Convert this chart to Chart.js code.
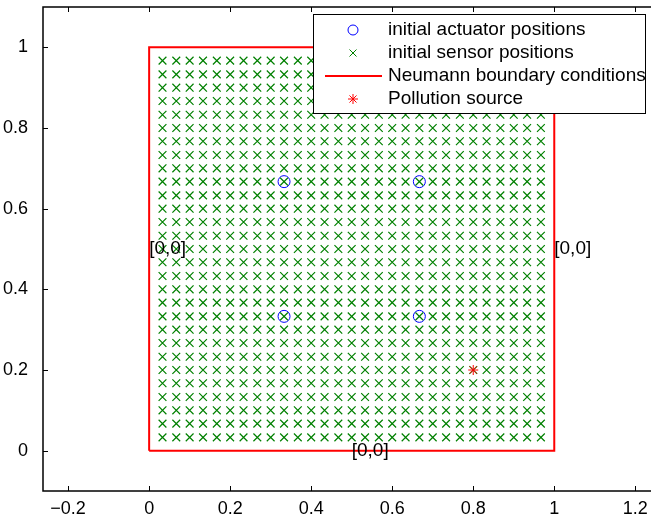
<!DOCTYPE html>
<html>
<head>
<meta charset="utf-8">
<script src="https://cdn.jsdelivr.net/npm/chart.js@4/dist/chart.umd.min.js"></script>
<style>
    html, body { margin: 0; padding: 0; overflow: hidden; background: #fff; }
</style>
</head>
<body>
<canvas id="plot" width="680" height="522"></canvas>
<script>
// 센서/액추에이터 배치도 (MATLAB 스타일)

const sensorGrid = [0.033, 0.067, 0.1, 0.133, 0.167, 0.2, 0.233, 0.267, 0.3, 0.333,
                    0.367, 0.4, 0.433, 0.467, 0.5, 0.533, 0.567, 0.6, 0.633, 0.667,
                    0.7, 0.733, 0.767, 0.8, 0.833, 0.867, 0.9, 0.933, 0.967];
const actuatorX = [0.333, 0.667, 0.333, 0.667];
const actuatorY = [0.333, 0.333, 0.667, 0.667];
const boundaryX = [0, 1, 1, 0, 0];
const boundaryY = [0, 0, 1, 1, 0];
const sourceX = [0.8];
const sourceY = [0.2];
const bcLabels = ['[0,0]', '[0,0]', '[0,0]'];
const bcX = [0, 1, 0.5];
const bcY = [0.5, 0.5, 0];
const xTicks = [-0.2, 0, 0.2, 0.4, 0.6, 0.8, 1, 1.2];
const xTickLabels = ['\u22120.2', '0', '0.2', '0.4', '0.6', '0.8', '1', '1.2'];
const yTicks = [0, 0.2, 0.4, 0.6, 0.8, 1];
const yTickLabels = ['0', '0.2', '0.4', '0.6', '0.8', '1'];

const FONT = '"Liberation Sans", Arial, Helvetica, sans-serif';
const GREEN = 'rgb(0,128,0)';

const sensorPoints = [];
sensorGrid.forEach(x => sensorGrid.forEach(y => sensorPoints.push({x: x, y: y})));

const datasets = [
    {
        label: 'initial actuator positions',
        data: actuatorX.map((x, i) => ({x: x, y: actuatorY[i]})),
        pointStyle: 'circle',
        pointRadius: 6,
        borderColor: '#0000ff',
        backgroundColor: 'rgba(0,0,0,0)',
        pointBorderWidth: 1,
        showLine: false,
        order: 4
    },
    {
        label: 'initial sensor positions',
        data: sensorPoints,
        pointStyle: 'crossRot',
        pointRadius: 5.5,
        borderColor: GREEN,
        backgroundColor: GREEN,
        pointBorderWidth: 1.2,
        showLine: false,
        order: 3
    },
    {
        label: 'Neumann boundary conditions',
        data: boundaryX.map((x, i) => ({x: x, y: boundaryY[i]})),
        showLine: true,
        borderColor: '#ff0000',
        borderWidth: 2,
        pointRadius: 0,
        fill: false,
        order: 2
    },
    {
        label: 'Pollution source',
        data: sourceX.map((x, i) => ({x: x, y: sourceY[i]})),
        pointStyle: 'star',
        pointRadius: 5,
        borderColor: '#ff0000',
        backgroundColor: '#ff0000',
        pointBorderWidth: 1,
        showLine: false,
        order: 1
    }
];

// 박스, 안쪽 눈금, 텍스트, 범례
const matlabPlugin = {
    id: 'matlabPlugin',
    afterDraw(chart) {
        const ctx = chart.ctx;
        const area = chart.chartArea;
        const xs = chart.scales.x;
        const ys = chart.scales.y;

        ctx.save();
        ctx.strokeStyle = '#000';
        ctx.lineWidth = 1.5;
        ctx.strokeRect(area.left, area.top, area.right - area.left, area.bottom - area.top);

        ctx.lineWidth = 1;
        ctx.beginPath();
        xTicks.forEach(v => {
            const px = Math.round(xs.getPixelForValue(v)) + 0.5;
            ctx.moveTo(px, area.bottom); ctx.lineTo(px, area.bottom - 5);
            ctx.moveTo(px, area.top); ctx.lineTo(px, area.top + 5);
        });
        yTicks.forEach(v => {
            const py = Math.round(ys.getPixelForValue(v)) + 0.5;
            ctx.moveTo(area.left, py); ctx.lineTo(area.left + 5, py);
            ctx.moveTo(area.right, py); ctx.lineTo(area.right - 5, py);
        });
        ctx.stroke();

        ctx.fillStyle = '#000';
        ctx.font = '19px ' + FONT;
        ctx.textAlign = 'left';
        ctx.textBaseline = 'middle';
        bcLabels.forEach((t, i) => {
            ctx.fillText(t, xs.getPixelForValue(bcX[i]), ys.getPixelForValue(bcY[i]));
        });

        // 범례
        const lx = 313, ly = 14, lw = 332, lh = 99;
        ctx.fillStyle = '#fff';
        ctx.fillRect(lx, ly, lw, lh);
        ctx.lineWidth = 1;
        ctx.strokeStyle = '#000';
        ctx.strokeRect(lx + 0.5, ly + 0.5, lw, lh);

        const rows = [30, 53, 76, 99];
        const symX = 353;
        chart.data.datasets.forEach((ds, i) => {
            const cy = rows[i];
            ctx.strokeStyle = ds.borderColor;
            ctx.lineWidth = 1;
            ctx.beginPath();
            if (ds.showLine) {
                ctx.lineWidth = ds.borderWidth;
                ctx.moveTo(325, cy); ctx.lineTo(382, cy);
            } else if (ds.pointStyle === 'circle') {
                ctx.arc(symX, cy, 5, 0, Math.PI * 2);
            } else if (ds.pointStyle === 'crossRot') {
                ctx.moveTo(symX - 3.5, cy - 3.5); ctx.lineTo(symX + 3.5, cy + 3.5);
                ctx.moveTo(symX - 3.5, cy + 3.5); ctx.lineTo(symX + 3.5, cy - 3.5);
            } else if (ds.pointStyle === 'star') {
                const r = 5, d = r * Math.SQRT1_2;
                ctx.moveTo(symX - r, cy); ctx.lineTo(symX + r, cy);
                ctx.moveTo(symX, cy - r); ctx.lineTo(symX, cy + r);
                ctx.moveTo(symX - d, cy - d); ctx.lineTo(symX + d, cy + d);
                ctx.moveTo(symX - d, cy + d); ctx.lineTo(symX + d, cy - d);
            }
            ctx.stroke();
            ctx.fillStyle = '#000';
            ctx.font = '19px ' + FONT;
            ctx.textAlign = 'left';
            ctx.textBaseline = 'middle';
            ctx.fillText(ds.label, 388, cy);
        });
        ctx.restore();
    }
};

new Chart(document.getElementById('plot'), {
    type: 'scatter',
    data: { datasets: datasets },
    options: {
        responsive: false,
        animation: false,
        layout: { padding: { top: 5, right: 20, left: 0, bottom: 0 } },
        plugins: { legend: { display: false }, tooltip: { enabled: false } },
        scales: {
            x: {
                type: 'linear',
                min: -0.262,
                max: 1.261,
                grid: { display: false, drawTicks: false },
                border: { display: false },
                afterFit: s => { s.height = 31; s.paddingLeft = 0; s.paddingRight = 0; },
                afterBuildTicks: s => { s.ticks = xTicks.map(v => ({value: v})); },
                ticks: {
                    padding: 7,
                    color: '#000',
                    font: { family: FONT, size: 18 },
                    maxRotation: 0,
                    autoSkip: false,
                    callback: v => xTickLabels[xTicks.indexOf(v)]
                }
            },
            y: {
                type: 'linear',
                min: -0.1,
                max: 1.1,
                grid: { display: false },
                border: { display: false },
                afterFit: s => { s.width = 43; s.paddingTop = 0; s.paddingBottom = 0; },
                afterBuildTicks: s => { s.ticks = yTicks.map(v => ({value: v})); },
                ticks: {
                    padding: 7,
                    color: '#000',
                    font: { family: FONT, size: 18 },
                    autoSkip: false,
                    callback: v => yTickLabels[yTicks.indexOf(v)]
                }
            }
        }
    },
    plugins: [matlabPlugin]
});
</script>
</body>
</html>
